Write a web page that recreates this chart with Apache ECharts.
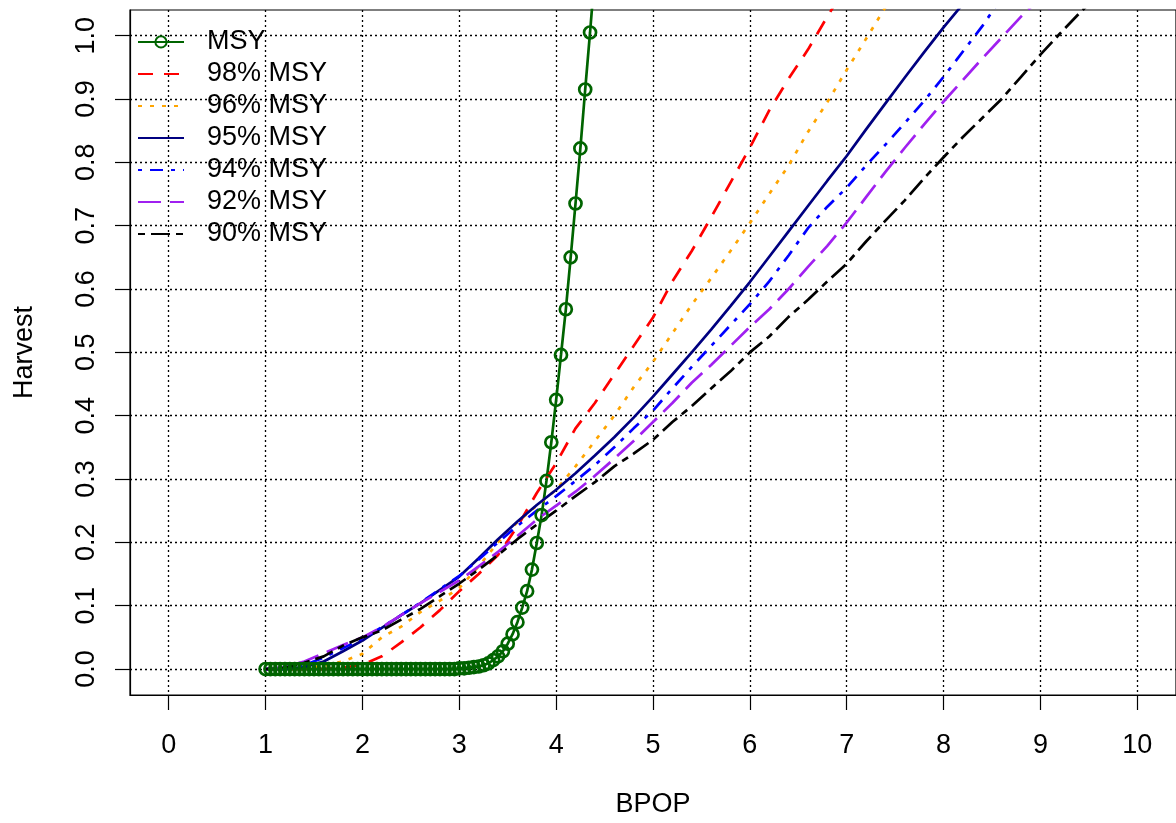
<!DOCTYPE html>
<html>
<head>
<meta charset="utf-8">
<script src="https://cdn.jsdelivr.net/npm/echarts@6/dist/echarts.min.js"></script>
<style>
  html, body { margin: 0; padding: 0; background: #fff; }
  #chart { width: 1176px; height: 823px; }
</style>
</head>
<body>
<div id="chart"></div>
<script>
// x positions (BPOP)
const msyX = [1.00, 1.05, 1.10, 1.15, 1.20, 1.25, 1.30, 1.35, 1.40, 1.45, 1.50, 1.55, 1.60, 1.65, 1.70, 1.75, 1.80, 1.85, 1.90, 1.95,
  2.00, 2.05, 2.10, 2.15, 2.20, 2.25, 2.30, 2.35, 2.40, 2.45, 2.50, 2.55, 2.60, 2.65, 2.70, 2.75, 2.80, 2.85, 2.90, 2.95,
  3.00, 3.05, 3.10, 3.15, 3.20, 3.25, 3.30, 3.35, 3.40, 3.45, 3.50, 3.55, 3.60, 3.65, 3.70, 3.75, 3.80, 3.85, 3.90, 3.95,
  4.00, 4.05, 4.10, 4.15, 4.20, 4.25, 4.30, 4.35, 4.40];
const bpop = [1.0, 1.2, 1.4, 1.6, 1.8, 2.0, 2.2, 2.4, 2.6, 2.8, 3.0, 3.2, 3.4, 3.6, 3.8, 4.0, 4.2, 4.4, 4.6, 4.8,
  5.0, 5.2, 5.4, 5.6, 5.8, 6.0, 6.2, 6.4, 6.6, 6.8, 7.0, 7.2, 7.4, 7.6, 7.8, 8.0, 8.2, 8.4, 8.6, 8.8,
  9.0, 9.2, 9.4, 9.6];

// harvest values
const msy = [0, 0, 0, 0, 0, 0, 0, 0, 0, 0, 0, 0, 0, 0, 0, 0, 0, 0, 0, 0,
  0, 0, 0, 0, 0, 0, 0, 0, 0, 0, 0, 0, 0, 0, 0, 0, 0, 0, 0, 0,
  0.001, 0.001, 0.002, 0.003, 0.004, 0.006, 0.009, 0.014, 0.02, 0.028, 0.04, 0.055, 0.074, 0.097, 0.123, 0.157, 0.199, 0.243, 0.297, 0.358,
  0.425, 0.496, 0.568, 0.65, 0.735, 0.822, 0.915, 1.005, 1.1];
const msy98 = [0, 0, 0, 0, 0.002, 0.007, 0.02, 0.042, 0.066, 0.093, 0.123, 0.15, 0.18, 0.225, 0.278, 0.325, 0.38, 0.42, 0.465, 0.51,
  0.555, 0.612, 0.66, 0.713, 0.768, 0.823, 0.882, 0.932, 0.978, 1.03, 1.08];
const msy96 = [0, 0, 0.001, 0.005, 0.012, 0.024, 0.05, 0.067, 0.09, 0.108, 0.128, 0.162, 0.2, 0.232, 0.258, 0.283, 0.32, 0.36, 0.40, 0.445,
  0.485, 0.53, 0.575, 0.617, 0.66, 0.704, 0.75, 0.795, 0.848, 0.895, 0.946, 0.995, 1.045];
const msy95 = [0, 0, 0.003, 0.012, 0.028, 0.045, 0.065, 0.085, 0.104, 0.125, 0.146, 0.175, 0.205, 0.233, 0.259, 0.283, 0.309, 0.337, 0.366, 0.397,
  0.43, 0.465, 0.5, 0.536, 0.573, 0.611, 0.651, 0.691, 0.731, 0.771, 0.81, 0.852, 0.893, 0.934, 0.974, 1.013, 1.05];
const msy94 = [0, 0.001, 0.006, 0.018, 0.033, 0.048, 0.066, 0.085, 0.105, 0.126, 0.147, 0.173, 0.2, 0.226, 0.25, 0.273, 0.297, 0.322, 0.35, 0.38,
  0.408, 0.443, 0.477, 0.51, 0.543, 0.576, 0.612, 0.653, 0.696, 0.73, 0.76, 0.795, 0.828, 0.862, 0.897, 0.935, 0.975, 1.015, 1.06];
const msy92 = [0, 0.003, 0.012, 0.025, 0.038, 0.05, 0.066, 0.085, 0.104, 0.122, 0.14, 0.162, 0.185, 0.21, 0.236, 0.258, 0.28, 0.305, 0.332, 0.36,
  0.39, 0.42, 0.452, 0.48, 0.51, 0.54, 0.568, 0.6, 0.635, 0.668, 0.705, 0.745, 0.785, 0.823, 0.86, 0.896, 0.93, 0.964, 0.997, 1.03,
  1.06];
const msy90 = [0, 0.002, 0.01, 0.02, 0.037, 0.05, 0.061, 0.078, 0.095, 0.115, 0.135, 0.157, 0.18, 0.205, 0.228, 0.25, 0.273, 0.295, 0.32, 0.34,
  0.362, 0.39, 0.415, 0.443, 0.47, 0.5, 0.525, 0.556, 0.583, 0.612, 0.64, 0.675, 0.708, 0.74, 0.775, 0.808, 0.84, 0.87, 0.9, 0.935,
  0.97, 1.003, 1.035, 1.065];

const xTicks = [0, 1, 2, 3, 4, 5, 6, 7, 8, 9, 10];
const yTicks = [0, 0.1, 0.2, 0.3, 0.4, 0.5, 0.6, 0.7, 0.8, 0.9, 1.0];

function pairs(xs, ys) {
    return ys.map((v, i) => [xs[i], v]);
}

const font = 'Liberation Sans, Arial, sans-serif';

let curves = [
    { name: '98% MSY', data: msy98, color: '#ff0000', dash: [15, 11] },
    { name: '96% MSY', data: msy96, color: '#ffa500', dash: [4, 8] },
    { name: '95% MSY', data: msy95, color: '#000080', dash: 'solid' },
    { name: '94% MSY', data: msy94, color: '#0000ff', dash: [4, 8, 13, 8] },
    { name: '92% MSY', data: msy92, color: '#a020f0', dash: [23, 9] },
    { name: '90% MSY', data: msy90, color: '#000000', dash: [7, 6, 19, 6] }
];

let series = [{
    name: 'MSY',
    type: 'line',
    data: pairs(msyX, msy),
    symbol: 'circle',
    symbolSize: 12,
    lineStyle: { color: '#006400', width: 2.7 },
    itemStyle: { color: 'rgba(0,0,0,0)', borderColor: '#006400', borderWidth: 2.7 },
    animation: false
}];

curves.forEach(c => {
    series.push({
        name: c.name,
        type: 'line',
        data: pairs(bpop, c.data),
        symbol: 'none',
        lineStyle: { color: c.color, width: 2.7, type: c.dash },
        itemStyle: { color: c.color },
        animation: false
    })
});

let legendData = [{ name: 'MSY' }].concat(curves.map(c => ({
    name: c.name,
    itemStyle: { opacity: 0 }
})));

let option = {
    backgroundColor: '#fff',
    animation: false,
    grid: {
        left: 130,
        top: 10,
        width: 1054,
        height: 685.7,
        show: true,
        borderColor: '#000',
        borderWidth: 1.2,
        backgroundColor: 'transparent'
    },
    legend: {
        data: legendData,
        orient: 'vertical',
        left: 137,
        top: 28.4,
        padding: 0,
        itemWidth: 46,
        itemHeight: 14,
        itemGap: 5,
        textStyle: {
            fontFamily: font,
            fontSize: 27,
            color: '#000',
            padding: [0, 0, 0, 18]
        }
    },
    xAxis: {
        type: 'value',
        min: -0.4,
        max: 10.4,
        name: 'BPOP',
        nameLocation: 'middle',
        nameGap: 96,
        nameTextStyle: { fontFamily: font, fontSize: 27, color: '#000' },
        axisLine: { show: true, onZero: false, lineStyle: { color: '#000', width: 1.2 } },
        axisTick: { show: true, length: 15, customValues: xTicks, lineStyle: { color: '#000', width: 1.2 } },
        axisLabel: { customValues: xTicks, margin: 37, fontFamily: font, fontSize: 27, color: '#000' },
        splitLine: { show: true, lineStyle: { color: '#000', width: 1.3, type: [2, 3] } }
    },
    yAxis: {
        type: 'value',
        min: -0.041,
        max: 1.0405,
        name: 'Harvest',
        nameLocation: 'middle',
        nameGap: 92,
        nameTextStyle: { fontFamily: font, fontSize: 27, color: '#000' },
        axisLine: { show: true, onZero: false, lineStyle: { color: '#000', width: 1.2 } },
        axisTick: { show: true, length: 15, customValues: yTicks, lineStyle: { color: '#000', width: 1.2 } },
        axisLabel: {
            customValues: yTicks,
            rotate: 90,
            margin: 30,
            fontFamily: font,
            fontSize: 27,
            color: '#000',
            formatter: v => v.toFixed(1)
        },
        splitLine: { show: true, lineStyle: { color: '#000', width: 1.3, type: [2, 3] } }
    },
    series: series
};

let chart = echarts.init(document.getElementById('chart'), null, { renderer: 'canvas' });
chart.setOption(option);
</script>
</body>
</html>
